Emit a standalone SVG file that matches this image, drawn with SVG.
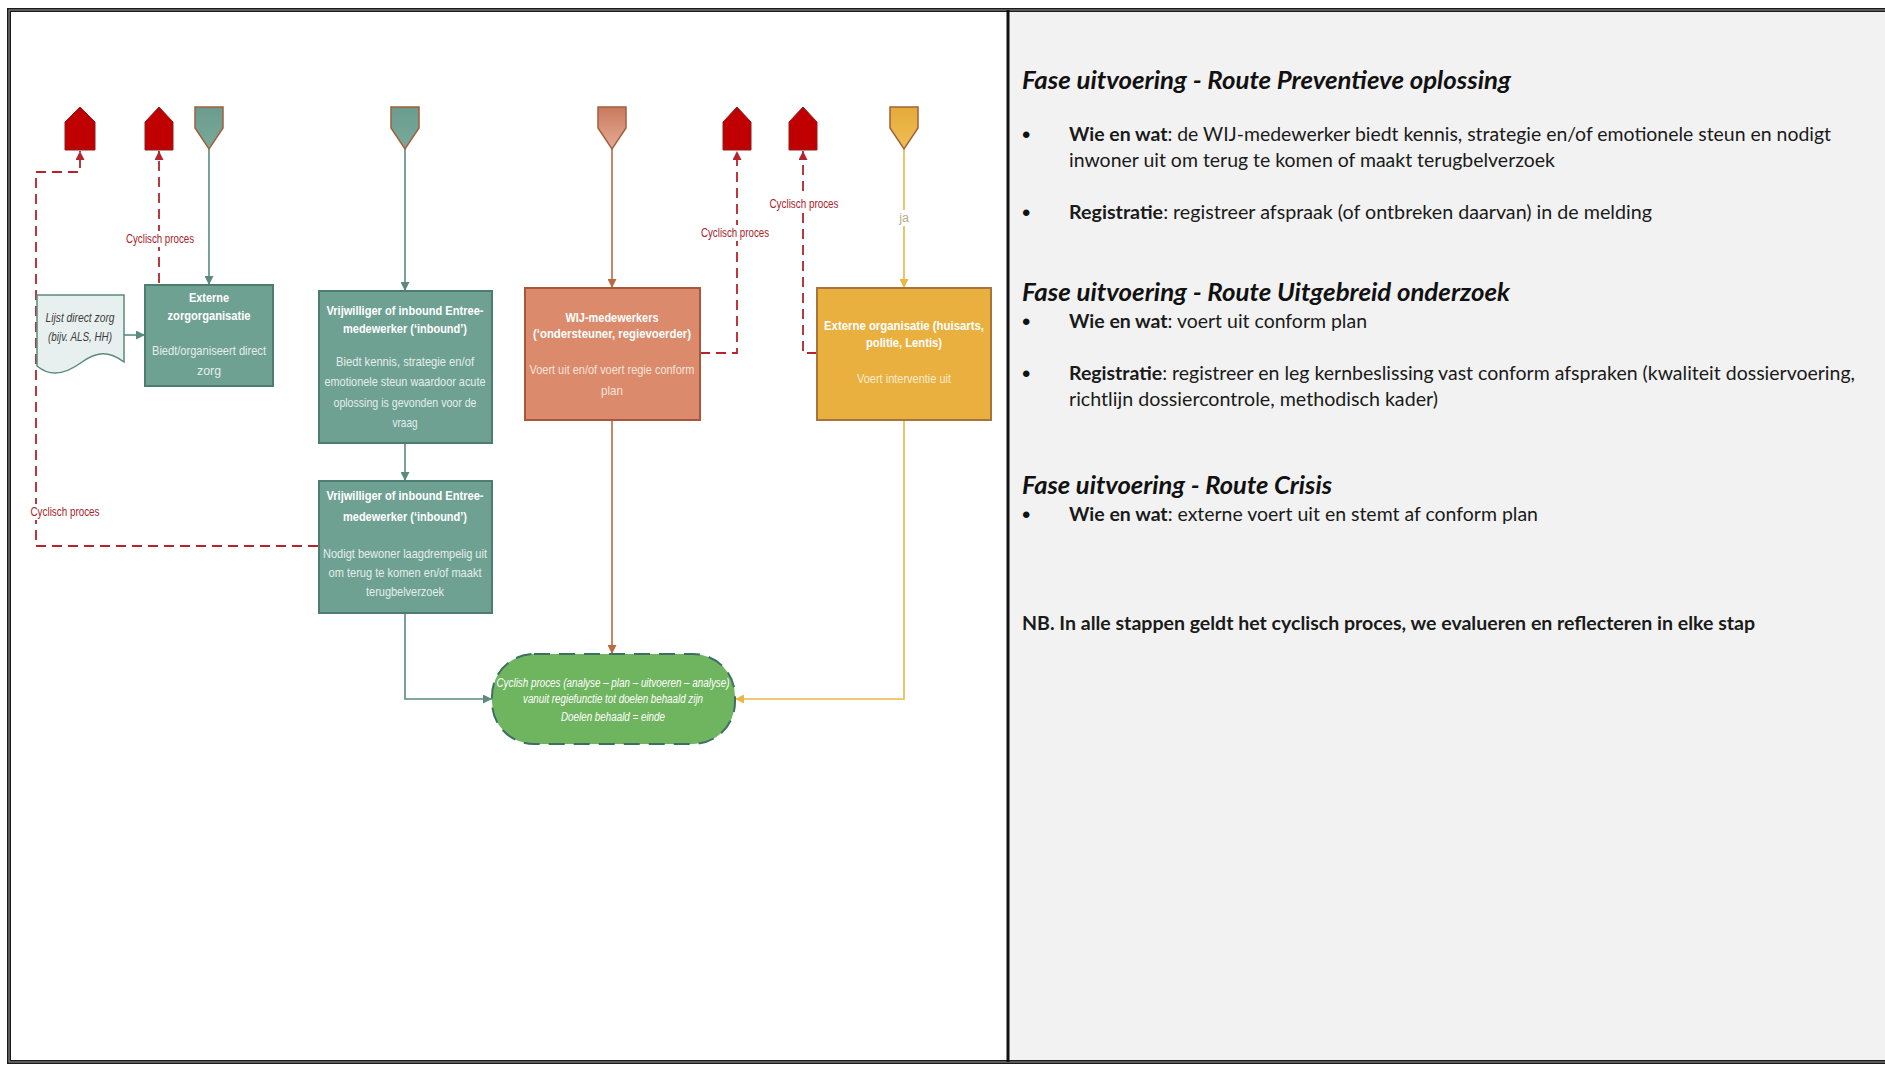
<svg xmlns="http://www.w3.org/2000/svg" width="1885" height="1065" viewBox="0 0 1885 1065">
<style>
.frame{fill:none;stroke:#1a1a1a;stroke-width:4}
.frameIn{fill:none;stroke:#9a9a9a;stroke-width:1}
.teal{fill:#6fa193;stroke:#4e7c70;stroke-width:2}
.wij{fill:#db8a6b;stroke:#a9573a;stroke-width:2}
.ext{fill:#e9b040;stroke:#a8743a;stroke-width:2}
.house{fill:#c00000;stroke:#8e1f1f;stroke-width:1}
.offpage{stroke:#a0603c;stroke-width:1.5}
.ttl{font-family:"Liberation Sans",Arial,sans-serif;font-size:13.5px;font-weight:bold;fill:#ffffff;text-anchor:middle}
.sub{font-family:"Liberation Sans",Arial,sans-serif;font-size:13.5px;fill:#e4eeea;text-anchor:middle}
.subw{font-family:"Liberation Sans",Arial,sans-serif;font-size:13.5px;fill:#f6e4da;text-anchor:middle}
.suby{font-family:"Liberation Sans",Arial,sans-serif;font-size:13.5px;fill:#f8ecd0;text-anchor:middle}
.grn{font-family:"Liberation Sans",Arial,sans-serif;font-size:12.5px;font-style:italic;fill:#ffffff;text-anchor:middle}
.doc{font-family:"Liberation Sans",Arial,sans-serif;font-size:13px;font-style:italic;fill:#3c3c3c;text-anchor:middle}
.lbl{font-family:"Liberation Sans",Arial,sans-serif;font-size:12.5px;fill:#a8232b;text-anchor:middle}
.ja{font-family:"Liberation Sans",Arial,sans-serif;font-size:12.5px;fill:#b9ab86;text-anchor:middle}
.bg{fill:#ffffff}
.cT{fill:none;stroke:#5b8a7e;stroke-width:1.6}
.cO{fill:none;stroke:#b86a40;stroke-width:1.6}
.cY{fill:none;stroke:#eab646;stroke-width:1.6}
.cR{fill:none;stroke:#b3242c;stroke-width:1.8;stroke-dasharray:10 6}
.h{font-family:Lato,"Open Sans",sans-serif;font-size:24px;font-weight:bold;font-style:italic;fill:#111111}
.b{font-family:Lato,"Open Sans",sans-serif;font-size:19.5px;fill:#1a1a1a}
.bul{font-family:"Liberation Sans",Arial,sans-serif;font-size:24px;fill:#111111}
</style>
<defs>
<marker id="aT" viewBox="0 0 10 10" refX="10" refY="5" markerWidth="9" markerHeight="9" markerUnits="userSpaceOnUse" orient="auto"><path d="M0,0 L10,5 L0,10 Z" fill="#5b8a7e"/></marker>
<marker id="aO" viewBox="0 0 10 10" refX="10" refY="5" markerWidth="9" markerHeight="9" markerUnits="userSpaceOnUse" orient="auto"><path d="M0,0 L10,5 L0,10 Z" fill="#b86a40"/></marker>
<marker id="aY" viewBox="0 0 10 10" refX="10" refY="5" markerWidth="9" markerHeight="9" markerUnits="userSpaceOnUse" orient="auto"><path d="M0,0 L10,5 L0,10 Z" fill="#eab646"/></marker>
<marker id="aR" viewBox="0 0 10 10" refX="10" refY="5" markerWidth="9" markerHeight="9" markerUnits="userSpaceOnUse" orient="auto"><path d="M0,0 L10,5 L0,10 Z" fill="#b3242c"/></marker>
<linearGradient id="gW" x1="0" y1="0" x2="0" y2="1"><stop offset="0" stop-color="#c97a5e"/><stop offset="1" stop-color="#e6ab95"/></linearGradient>
<linearGradient id="gT" x1="0" y1="0" x2="0" y2="1"><stop offset="0" stop-color="#6a9c8e"/><stop offset="1" stop-color="#79a99b"/></linearGradient>
<linearGradient id="gY" x1="0" y1="0" x2="0" y2="1"><stop offset="0" stop-color="#e5aa3a"/><stop offset="1" stop-color="#f0be55"/></linearGradient>
</defs>

<!-- panels and frame -->
<rect x="0" y="0" width="1885" height="1065" fill="#ffffff"/>
<rect x="1008" y="10" width="877" height="1052" fill="#f2f2f2"/>
<rect class="frame" x="9" y="10" width="1900" height="1052"/>
<rect class="frameIn" x="9" y="10" width="1900" height="1052"/>
<line x1="1008" y1="10" x2="1008" y2="1062" stroke="#111111" stroke-width="3"/>

<!-- connectors -->
<g id="connectors">
<path class="cT" d="M209,149 V285" marker-end="url(#aT)"/>
<path class="cT" d="M124,335 H145" marker-end="url(#aT)"/>
<path class="cT" d="M405,149 V291" marker-end="url(#aT)"/>
<path class="cT" d="M405,443 V481" marker-end="url(#aT)"/>
<path class="cT" d="M405,613 V699 H492" marker-end="url(#aT)"/>
<path class="cO" d="M612,149 V288" marker-end="url(#aO)"/>
<path class="cO" d="M612,420 V654" marker-end="url(#aO)"/>
<path class="cY" d="M904,149 V288" marker-end="url(#aY)"/>
<path class="cY" d="M904,420 V699 H735" marker-end="url(#aY)"/>
<path class="cR" d="M318,546 H36 V172 H80 V151" marker-end="url(#aR)"/>
<path class="cR" d="M173,285 H159 V151" marker-end="url(#aR)"/>
<path class="cR" d="M700,353 H737 V151" marker-end="url(#aR)"/>
<path class="cR" d="M817,353 H803 V151" marker-end="url(#aR)"/>
<rect class="bg" x="124" y="231" width="72" height="16"/>
<text class="lbl" x="160" y="243" textLength="68" lengthAdjust="spacingAndGlyphs">Cyclisch proces</text>
<rect class="bg" x="700" y="225" width="70" height="16"/>
<text class="lbl" x="735" y="237" textLength="68" lengthAdjust="spacingAndGlyphs">Cyclisch proces</text>
<rect class="bg" x="768" y="196" width="72" height="16"/>
<text class="lbl" x="804" y="208" textLength="69" lengthAdjust="spacingAndGlyphs">Cyclisch proces</text>
<rect class="bg" x="28" y="504" width="73" height="16"/>
<text class="lbl" x="65" y="516" textLength="69" lengthAdjust="spacingAndGlyphs">Cyclisch proces</text>
<rect class="bg" x="897" y="210" width="14" height="16"/>
<text class="ja" x="904" y="222">ja</text>
</g>

<!-- cyclic-process red markers -->
<g id="cyc1"><polygon class="house" points="65,150 65,122 80,107 95,122 95,150"/></g>
<g id="cyc2"><polygon class="house" points="145,150 145,122 159,107 173,122 173,150"/></g>
<g id="cyc3"><polygon class="house" points="723,150 723,122 737,107 751,122 751,150"/></g>
<g id="cyc4"><polygon class="house" points="789,150 789,122 803,107 817,122 817,150"/></g>

<!-- off-page connectors -->
<g id="in1"><polygon class="offpage" fill="url(#gT)" points="195,107 223,107 223,128 209,149 195,128"/></g>
<g id="in2"><polygon class="offpage" fill="url(#gT)" points="391,107 419,107 419,128 405,149 391,128"/></g>
<g id="in3"><polygon class="offpage" fill="url(#gW)" points="598,107 626,107 626,128 612,149 598,128"/></g>
<g id="in4"><polygon class="offpage" fill="url(#gY)" points="890,107 918,107 918,128 904,149 890,128"/></g>

<!-- document -->
<g id="lijst">
<path d="M37,295 H124 V362 C108,350 96,352 82,362 C66,374 50,377 37,366 Z" fill="#e8f0ef" stroke="#5b8a7e" stroke-width="1.5"/>
<text class="doc" x="80" y="322" textLength="69" lengthAdjust="spacingAndGlyphs">Lijst direct  zorg</text>
<text class="doc" x="80" y="341" textLength="64" lengthAdjust="spacingAndGlyphs">(bijv. ALS, HH)</text>
</g>

<g id="externe-zorg">
<rect class="teal" x="145" y="285" width="128" height="101"/>
<text class="ttl" x="209" y="302" textLength="40" lengthAdjust="spacingAndGlyphs">Externe</text>
<text class="ttl" x="209" y="320" textLength="83" lengthAdjust="spacingAndGlyphs">zorgorganisatie</text>
<text class="sub" x="209" y="355" textLength="114" lengthAdjust="spacingAndGlyphs">Biedt/organiseert direct</text>
<text class="sub" x="209" y="375" textLength="24" lengthAdjust="spacingAndGlyphs">zorg</text>
</g>

<g id="vrijwilliger1">
<rect class="teal" x="319" y="291" width="173" height="152"/>
<text class="ttl" x="405" y="315" textLength="157" lengthAdjust="spacingAndGlyphs">Vrijwilliger of inbound Entree-</text>
<text class="ttl" x="405" y="333" textLength="124" lengthAdjust="spacingAndGlyphs">medewerker (‘inbound’)</text>
<text class="sub" x="405" y="366" textLength="138" lengthAdjust="spacingAndGlyphs">Biedt kennis, strategie en/of</text>
<text class="sub" x="405" y="386" textLength="161" lengthAdjust="spacingAndGlyphs">emotionele steun waardoor acute</text>
<text class="sub" x="405" y="407" textLength="143" lengthAdjust="spacingAndGlyphs">oplossing is gevonden voor de</text>
<text class="sub" x="405" y="427" textLength="25" lengthAdjust="spacingAndGlyphs">vraag</text>
</g>

<g id="vrijwilliger2">
<rect class="teal" x="319" y="481" width="173" height="132"/>
<text class="ttl" x="405" y="500" textLength="157" lengthAdjust="spacingAndGlyphs">Vrijwilliger of inbound Entree-</text>
<text class="ttl" x="405" y="521" textLength="124" lengthAdjust="spacingAndGlyphs">medewerker (‘inbound’)</text>
<text class="sub" x="405" y="558" textLength="164" lengthAdjust="spacingAndGlyphs">Nodigt bewoner laagdrempelig uit</text>
<text class="sub" x="405" y="577" textLength="153" lengthAdjust="spacingAndGlyphs">om terug te komen en/of maakt</text>
<text class="sub" x="405" y="596" textLength="78" lengthAdjust="spacingAndGlyphs">terugbelverzoek</text>
</g>

<g id="wij">
<rect class="wij" x="525" y="288" width="175" height="132"/>
<text class="ttl" x="612" y="322" textLength="93" lengthAdjust="spacingAndGlyphs">WIJ-medewerkers</text>
<text class="ttl" x="612" y="338" textLength="158" lengthAdjust="spacingAndGlyphs">(‘ondersteuner, regievoerder)</text>
<text class="subw" x="612" y="374" textLength="165" lengthAdjust="spacingAndGlyphs">Voert uit en/of voert regie conform</text>
<text class="subw" x="612" y="395" textLength="22" lengthAdjust="spacingAndGlyphs">plan</text>
</g>

<g id="externe-organisatie">
<rect class="ext" x="817" y="288" width="174" height="132"/>
<text class="ttl" x="904" y="330" textLength="160" lengthAdjust="spacingAndGlyphs">Externe organisatie (huisarts,</text>
<text class="ttl" x="904" y="347" textLength="76" lengthAdjust="spacingAndGlyphs">politie, Lentis)</text>
<text class="suby" x="904" y="383" textLength="94" lengthAdjust="spacingAndGlyphs">Voert interventie uit</text>
</g>

<g id="cyclisch-einde">
<rect x="492" y="654" width="243" height="90" rx="42" ry="42" fill="#6fb560" stroke="#3f6f63" stroke-width="2" stroke-dasharray="16 9"/>
<text class="grn" x="613" y="687" textLength="233" lengthAdjust="spacingAndGlyphs">Cyclish proces (analyse – plan – uitvoeren – analyse)</text>
<text class="grn" x="613" y="703" textLength="180" lengthAdjust="spacingAndGlyphs">vanuit regiefunctie tot doelen behaald zijn</text>
<text class="grn" x="613" y="721" textLength="104" lengthAdjust="spacingAndGlyphs">Doelen behaald = einde</text>
</g>

<!-- right panel text -->
<g id="toelichting">
<text class="h" x="1022" y="89" textLength="489" lengthAdjust="spacingAndGlyphs">Fase uitvoering - Route Preventieve oplossing</text>
<text class="bul" x="1022" y="143">•</text>
<text class="b" x="1069" y="141" textLength="762" lengthAdjust="spacingAndGlyphs"><tspan font-weight="bold">Wie en wat</tspan>: de WIJ-medewerker biedt kennis, strategie en/of emotionele steun en nodigt</text>
<text class="b" x="1069" y="167" textLength="486" lengthAdjust="spacingAndGlyphs">inwoner uit om terug te komen of maakt terugbelverzoek</text>
<text class="bul" x="1022" y="221">•</text>
<text class="b" x="1069" y="219" textLength="583" lengthAdjust="spacingAndGlyphs"><tspan font-weight="bold">Registratie</tspan>: registreer afspraak (of ontbreken daarvan) in de melding</text>

<text class="h" x="1022" y="301" textLength="488" lengthAdjust="spacingAndGlyphs">Fase uitvoering - Route Uitgebreid onderzoek</text>
<text class="bul" x="1022" y="330">•</text>
<text class="b" x="1069" y="328" textLength="298" lengthAdjust="spacingAndGlyphs"><tspan font-weight="bold">Wie en wat</tspan>: voert uit conform plan</text>
<text class="bul" x="1022" y="382">•</text>
<text class="b" x="1069" y="380" textLength="786" lengthAdjust="spacingAndGlyphs"><tspan font-weight="bold">Registratie</tspan>: registreer en leg kernbeslissing vast conform afspraken (kwaliteit dossiervoering,</text>
<text class="b" x="1069" y="406" textLength="369" lengthAdjust="spacingAndGlyphs">richtlijn dossiercontrole, methodisch kader)</text>

<text class="h" x="1022" y="494" textLength="310" lengthAdjust="spacingAndGlyphs">Fase uitvoering - Route Crisis</text>
<text class="bul" x="1022" y="523">•</text>
<text class="b" x="1069" y="521" textLength="469" lengthAdjust="spacingAndGlyphs"><tspan font-weight="bold">Wie en wat</tspan>: externe voert uit en stemt af conform plan</text>

<text class="b" x="1022" y="630" font-weight="bold" textLength="733" lengthAdjust="spacingAndGlyphs">NB. In alle stappen geldt het cyclisch proces, we evalueren en reflecteren in elke stap</text>
</g>
</svg>
